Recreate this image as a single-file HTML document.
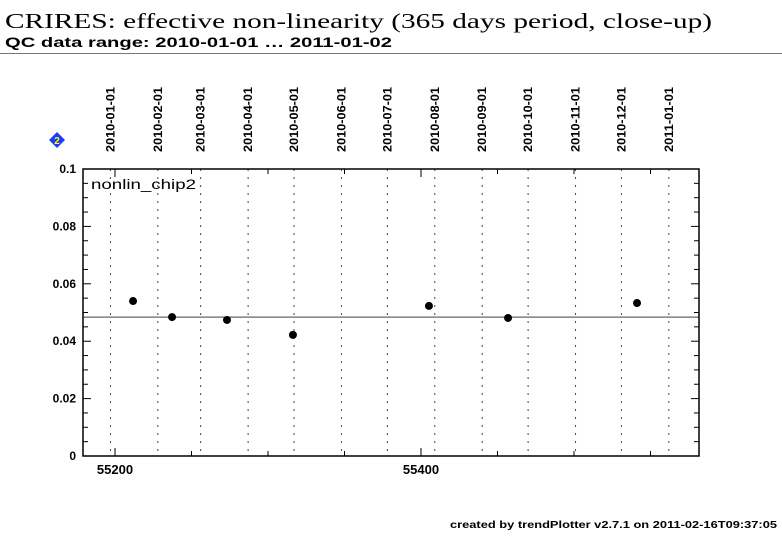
<!DOCTYPE html>
<html><head><meta charset="utf-8"><style>
body{margin:0;background:#fff;}
svg{display:block;font-family:"Liberation Sans",sans-serif;}
</style></head><body>
<svg id="chart" width="782" height="542" viewBox="0 0 782 542">
<text x="5" y="28" font-family="Liberation Serif" font-size="21" textLength="707" lengthAdjust="spacingAndGlyphs">CRIRES: effective non-linearity (365 days period, close-up)</text>
<text x="5" y="47" font-family="Liberation Sans" font-weight="bold" font-size="14" textLength="387" lengthAdjust="spacingAndGlyphs">QC data range: 2010-01-01 … 2011-01-02</text>
<line x1="0" y1="53.5" x2="782" y2="53.5" stroke="#777" stroke-width="1"/>
<g><polygon points="57,132 65,140 57,148 49,140" fill="#1a3cff"/><text x="57" y="144" font-size="10" font-weight="bold" fill="#ff0" text-anchor="middle">2</text></g>
<g id="grid"></g>
<g id="axes"></g>
<g id="marks"></g>
<rect x="83" y="169" width="616" height="287" fill="none" stroke="#000" stroke-width="1.5"/>
<text x="91" y="189" font-family="Liberation Sans" font-size="14" textLength="105" lengthAdjust="spacingAndGlyphs">nonlin_chip2</text>
<text x="450" y="528" font-size="10" font-weight="bold" textLength="327" lengthAdjust="spacingAndGlyphs">created by trendPlotter v2.7.1 on 2011-02-16T09:37:05</text>
</svg>
<script>
const mjd=[55211.8,55237.3,55273.2,55316.3,55405.2,55456.9,55541.2];
const vals=[0.0540,0.0484,0.0474,0.0422,0.0523,0.0481,0.0533];
const meanVal=[0.0484];
const monthLabels=["2010-01-01","2010-02-01","2010-03-01","2010-04-01","2010-05-01","2010-06-01","2010-07-01","2010-08-01","2010-09-01","2010-10-01","2010-11-01","2010-12-01","2011-01-01"];
const monthMjd=[55197,55228,55256,55287,55317,55348,55378,55409,55440,55470,55501,55531,55562];
const yTicks=[0,0.02,0.04,0.06,0.08,0.1];
const yTickLabels=["0","0.02","0.04","0.06","0.08","0.1"];
const xTicks=[55200,55400];
const xTickLabels=["55200","55400"];
const NS="http://www.w3.org/2000/svg";
const X0=83,X1=699,Y0=456,Y1=169;
const xs=v=>115+(v-55200)*1.53;
const ys=v=>Y0-(v/0.1)*(Y0-Y1);
function mk(t,a,p){const e=document.createElementNS(NS,t);for(const k in a)e.setAttribute(k,a[k]);p.appendChild(e);return e;}
const grid=document.getElementById('grid'),axes=document.getElementById('axes'),marks=document.getElementById('marks');
monthMjd.forEach((m,i)=>{
 const x=xs(m);
 const l=mk('line',{x1:x,y1:Y1,x2:x,y2:Y0,stroke:'#444','stroke-width':1,'stroke-dasharray':'2,6'},grid);
 
 
 const t=mk('text',{x:0,y:0,'font-size':11.5,'font-weight':'bold','text-anchor':'start',textLength:65,lengthAdjust:'spacingAndGlyphs',transform:`translate(${x+4},152) rotate(-90)`},grid);
 
 
 t.textContent=monthLabels[i];
});
for(let v=0;v<=0.1001;v+=0.005){
 const y=ys(v);const major=Math.abs(v/0.02-Math.round(v/0.02))<1e-6;const len=major?8:5;
 const a=mk('line',{x1:X0,y1:y,x2:X0+len,y2:y,stroke:'#000'},axes);
 
 
 const b=mk('line',{x1:X1,y1:y,x2:X1-len,y2:y,stroke:'#000'},axes);
 
 
}
yTicks.forEach((v,i)=>{
 const t=mk('text',{x:76,y:ys(v)+4,'font-size':12,'font-weight':'bold','text-anchor':'end'},axes);
 
 
 t.textContent=yTickLabels[i];
});
for(let m=55200;m<=55550;m+=50){
 const x=xs(m);const len=(m%200===0)?8:5;
 const a=mk('line',{x1:x,y1:Y0,x2:x,y2:Y0-len,stroke:'#000'},axes);
 
 
 const b=mk('line',{x1:x,y1:Y1,x2:x,y2:Y1+len,stroke:'#000'},axes);
 
 
}
xTicks.forEach((v,i)=>{
 const t=mk('text',{x:xs(v),y:474,'font-size':13,'font-weight':'bold','text-anchor':'middle'},axes);
 
 
 t.textContent=xTickLabels[i];
});
const ml=mk('line',{x1:X0,y1:ys(meanVal[0]),x2:X1,y2:ys(meanVal[0]),stroke:'#666','stroke-width':1.2},marks);


mjd.forEach((m,i)=>{
 const c=mk('circle',{cx:xs(m),cy:ys(vals[i]),r:4,fill:'#000'},marks);
 
 
});
</script>
</body></html>
